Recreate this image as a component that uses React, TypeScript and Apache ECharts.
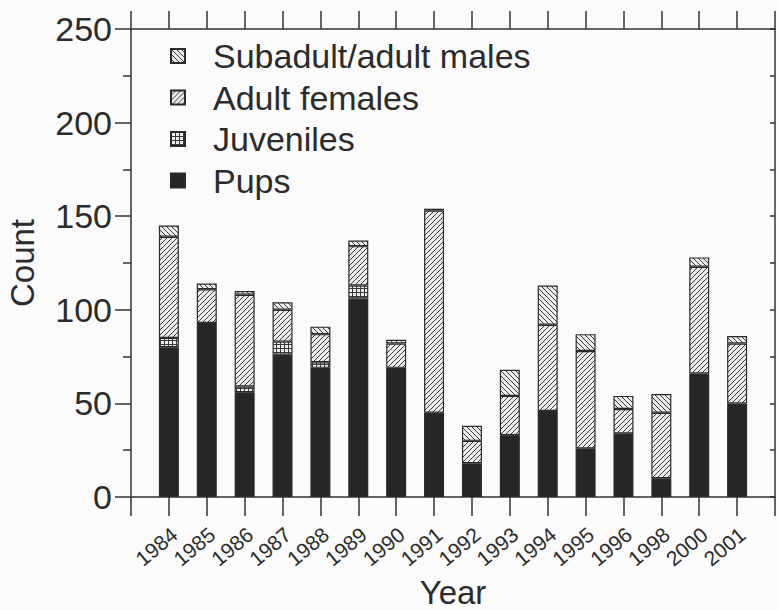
import React, { useEffect, useRef } from "react";
import * as echarts from "echarts";

// Census counts by year and age/sex class
const years = ["1984", "1985", "1986", "1987", "1988", "1989", "1990", "1991", "1992", "1993", "1994", "1995", "1996", "1998", "2000", "2001"];
const pups = [80, 93, 56, 76, 69, 106, 69, 45, 18, 33, 46, 26, 34, 10, 66, 50];
const juveniles = [5, 0, 3, 7, 3, 7, 0, 0, 0, 0, 0, 0, 0, 0, 0, 0];
const adultFemales = [54, 18, 49, 17, 15, 21, 13, 108, 12, 21, 46, 52, 13, 35, 57, 32];
const adultMales = [6, 3, 2, 4, 4, 3, 2, 1, 8, 14, 21, 9, 7, 10, 5, 4];

const FONT = "'Liberation Sans', Arial, Helvetica, sans-serif";
const INK = "#2b2b2b";

type Kind = "back" | "fwd" | "grid";

function makePattern(kind: Kind): HTMLCanvasElement {
  const s = kind === "grid" ? 4 : 5;
  const c = document.createElement("canvas");
  c.width = s;
  c.height = s;
  const ctx = c.getContext("2d")!;
  ctx.fillStyle = "#ececec";
  ctx.fillRect(0, 0, s, s);
  ctx.strokeStyle = "#3a3a3a";
  ctx.lineWidth = 1;
  ctx.beginPath();
  if (kind === "back") {
    ctx.moveTo(-1, -1);
    ctx.lineTo(s + 1, s + 1);
    ctx.moveTo(-1, s - 1);
    ctx.lineTo(1, s + 1);
    ctx.moveTo(s - 1, -1);
    ctx.lineTo(s + 1, 1);
  } else if (kind === "fwd") {
    ctx.moveTo(-1, s + 1);
    ctx.lineTo(s + 1, -1);
    ctx.moveTo(-1, 1);
    ctx.lineTo(1, -1);
    ctx.moveTo(s - 1, s + 1);
    ctx.lineTo(s + 1, s - 1);
  } else {
    ctx.moveTo(0, 0.5);
    ctx.lineTo(s, 0.5);
    ctx.moveTo(0.5, 0);
    ctx.lineTo(0.5, s);
  }
  ctx.stroke();
  return c;
}

const pad = (arr: number[]) => ["-", ...arr.map((v) => (v === 0 ? "-" : v)), "-"];

export default function App() {
  const ref = useRef<HTMLDivElement>(null);

  useEffect(() => {
    if (!ref.current) return;
    const chart = echarts.init(ref.current, undefined, { renderer: "svg" });
    const cats = ["", ...years, ""];

    const fills: Record<string, any> = {
      males: { image: makePattern("back"), repeat: "repeat" },
      females: { image: makePattern("fwd"), repeat: "repeat" },
      juv: { image: makePattern("grid"), repeat: "repeat" },
      pups: "#262626",
    };

    const bar = (name: string, data: number[], fill: any) => ({
      name,
      type: "bar",
      stack: "total",
      barWidth: 20,
      xAxisIndex: 0,
      yAxisIndex: 0,
      data: pad(data),
      itemStyle: { color: fill, borderColor: "#2a2a2a", borderWidth: 1.2 },
      emphasis: { disabled: true },
    });

    const axisLine = { show: true, onZero: false, lineStyle: { color: "#333", width: 1.5 } };
    const tickLine = { color: "#333", width: 1.5 };

    chart.setOption({
      animation: false,
      backgroundColor: "#fbfbfb",
      textStyle: { fontFamily: FONT, color: INK },
      grid: { left: 131, right: 3, top: 29, bottom: 113, outerBoundsMode: "none" },
      legend: {
        orient: "vertical",
        left: 165,
        top: 34,
        itemWidth: 14,
        itemHeight: 14,
        itemGap: 7.5,
        icon: "rect",
        data: ["Subadult/adult males", "Adult females", "Juveniles", "Pups"],
        textStyle: { fontFamily: FONT, fontSize: 34, color: INK, padding: [0, 0, 0, 23] },
      },
      xAxis: [
        {
          type: "category",
          data: cats,
          boundaryGap: false,
          position: "bottom",
          name: "Year",
          nameLocation: "middle",
          nameGap: 74,
          nameTextStyle: { fontFamily: FONT, fontSize: 33, color: INK },
          axisLine,
          axisTick: { show: true, length: 19, interval: 0, lineStyle: tickLine },
          axisLabel: {
            interval: 0,
            rotate: 40,
            fontSize: 21,
            fontFamily: FONT,
            color: INK,
            margin: 39,
            padding: [0, -7, 0, 0],
          },
          splitLine: { show: false },
        },
        {
          type: "category",
          data: cats,
          boundaryGap: false,
          position: "top",
          axisLine,
          axisTick: { show: true, length: 18, interval: 0, lineStyle: tickLine },
          axisLabel: { show: false },
          splitLine: { show: false },
        },
      ],
      yAxis: [
        {
          type: "value",
          min: 0,
          max: 250,
          interval: 50,
          position: "left",
          name: "Count",
          nameLocation: "middle",
          nameGap: 95,
          nameRotate: 90,
          nameTextStyle: { fontFamily: FONT, fontSize: 33, lineHeight: 28, color: INK },
          axisLine,
          axisTick: { show: true, length: 16, lineStyle: tickLine },
          minorTick: { show: true, splitNumber: 2, length: 8, lineStyle: tickLine },
          axisLabel: { fontSize: 34, fontFamily: FONT, color: INK, margin: 19 },
          splitLine: { show: false },
          minorSplitLine: { show: false },
        },
        {
          type: "value",
          min: 0,
          max: 250,
          interval: 25,
          position: "right",
          axisLine,
          axisTick: { show: true, inside: true, length: 5, lineStyle: tickLine },
          axisLabel: { show: false },
          splitLine: { show: false },
        },
      ],
      series: [
        bar("Pups", pups, fills.pups),
        bar("Juveniles", juveniles, fills.juv),
        bar("Adult females", adultFemales, fills.females),
        bar("Subadult/adult males", adultMales, fills.males),
      ],
    });

    return () => chart.dispose();
  }, []);

  return <div ref={ref} style={{ width: 778, height: 610, position: "absolute", left: 0, top: 0 }} />;
}
